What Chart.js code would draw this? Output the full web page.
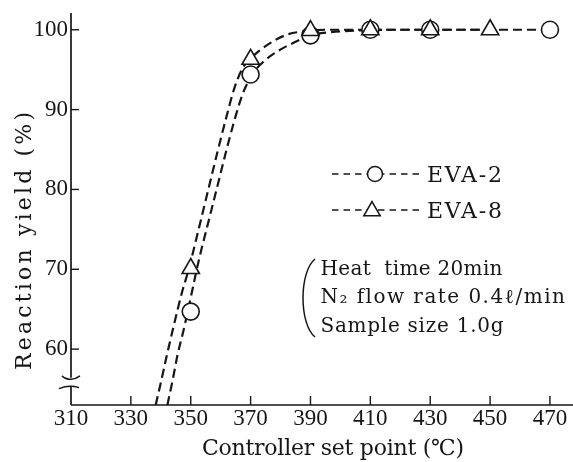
<!DOCTYPE html>
<html>
<head>
<meta charset="utf-8">
<script src="https://cdn.jsdelivr.net/npm/chart.js@4.4.0/dist/chart.umd.min.js"></script>
<style>
html,body{margin:0;padding:0;background:#fff;}
#wrap{width:573px;height:462px;}
canvas{display:block;}
</style>
</head>
<body>
<div id="wrap"><canvas id="c" width="573" height="462"></canvas></div>
<script>
// ---------- data ----------
const xTickValues = [310, 330, 350, 370, 390, 410, 430, 450, 470];
const yTickValues = [60, 70, 80, 90, 100];

const seriesNames = ['EVA-2', 'EVA-8'];

// measured points (markers)
const eva2Temp  = [350, 370, 390, 410, 430, 470];
const eva2Yield = [64.7, 94.4, 99.3, 100, 100, 100];
const eva8Temp  = [350, 370, 390, 410, 430, 450];
const eva8Yield = [70.1, 96.3, 99.9, 100, 100, 100];

// hand-drawn fitted curves
const eva2CurveTemp  = [342.2, 344, 345.6, 347.5, 349, 350.6, 352.8, 355, 358.9, 361.7, 364.4, 367.2, 370.5, 374, 379, 384.5, 390, 397, 405, 415, 470];
const eva2CurveYield = [53, 56.2, 59.3, 62.2, 64.7, 67.5, 71.3, 74.6, 80.4, 84.6, 88.4, 91.8, 94.4, 95.9, 97.3, 98.4, 99.3, 99.7, 99.9, 100, 100];
const eva8CurveTemp  = [338.3, 340, 342, 344.5, 347, 349.4, 352.5, 356, 359, 362, 364.5, 367.2, 370, 375.6, 382.2, 388, 395, 405, 450];
const eva8CurveYield = [53, 55.8, 59.2, 63.2, 67, 70.1, 74.8, 80.2, 84.8, 89.2, 92.6, 95.1, 96.4, 98.1, 99.4, 99.8, 100, 100, 100];

const xTitle = 'Controller set point (℃)';
const yTitle = 'Reaction yield (%)';
const conditionLines = ['Heat  time 20min', 'N₂ flow rate 0.4ℓ/min', 'Sample size 1.0g'];

// ---------- styling ----------
const INK = '#161616';
const TEXT_FONT = '"DejaVu Serif", "Liberation Serif", serif';
const NUM_FONT = '"Liberation Serif", "DejaVu Serif", serif';

const pts = (xs, ys) => xs.map((x, i) => ({x: x, y: ys[i]}));

const curveStyle = {
  borderColor: INK, borderWidth: 2.2, borderDash: [9, 5],
  pointRadius: 0, pointHoverRadius: 0, fill: false,
  cubicInterpolationMode: 'monotone', showLine: true
};

function fitText(ctx, text, x, y, width, font) {
  ctx.font = font;
  const hasLS = ('letterSpacing' in ctx);
  if (hasLS) ctx.letterSpacing = '0px';
  const w = ctx.measureText(text).width;
  const n = Array.from(text).length;
  if (hasLS && n > 1) ctx.letterSpacing = ((width - w) / (n - 1)) + 'px';
  ctx.textAlign = 'left';
  ctx.fillText(text, x, y);
  if (hasLS) ctx.letterSpacing = '0px';
}

function marker(ctx, style, cx, cy, r) {
  ctx.beginPath();
  if (style === 'circle') {
    ctx.arc(cx, cy, r, 0, Math.PI * 2);
  } else {
    for (let k = 0; k < 3; k++) {
      const a = k * 2 * Math.PI / 3;
      const px = cx + Math.sin(a) * r, py = cy - Math.cos(a) * r;
      if (k === 0) ctx.moveTo(px, py); else ctx.lineTo(px, py);
    }
    ctx.closePath();
  }
  ctx.fillStyle = '#fff';
  ctx.fill();
  ctx.stroke();
}

const deco = {
  id: 'deco',
  afterDraw(chart) {
    const {ctx, chartArea: a, scales: {x, y}} = chart;
    ctx.save();
    ctx.strokeStyle = INK;
    ctx.fillStyle = INK;
    ctx.lineWidth = 1.7;
    ctx.setLineDash([]);
    const seg = (x1, y1, x2, y2) => { ctx.beginPath(); ctx.moveTo(x1, y1); ctx.lineTo(x2, y2); ctx.stroke(); };

    // x axis
    seg(a.left, a.bottom, a.right, a.bottom);
    // y axis with break
    const yb1 = y.getPixelForValue(56.4), yb2 = y.getPixelForValue(55.3);
    seg(a.left, a.top, a.left, yb1);
    seg(a.left, yb2, a.left, a.bottom);
    ctx.lineWidth = 1.5;
    ctx.beginPath();
    ctx.moveTo(a.left - 9, yb1 - 2);
    ctx.bezierCurveTo(a.left - 4, yb1 + 3, a.left + 4, yb1 + 2, a.left + 9, yb1 - 2);
    ctx.stroke();
    ctx.beginPath();
    ctx.moveTo(a.left - 12, yb2 + 2);
    ctx.quadraticCurveTo(a.left - 2, yb2 - 2, a.left + 8, yb2 + 1);
    ctx.stroke();

    // inward ticks
    ctx.lineWidth = 1.4;
    x.ticks.forEach(t => {
      if (t.value === x.min) return;
      const px = x.getPixelForValue(t.value);
      seg(px, a.bottom, px, a.bottom - 9);
    });
    y.ticks.forEach(t => {
      const py = y.getPixelForValue(t.value);
      seg(a.left, py, a.left + 8, py);
    });

    // axis titles
    ctx.textBaseline = 'alphabetic';
    ctx.fillStyle = INK;
    fitText(ctx, xTitle, 202, 455, 262, '22px ' + TEXT_FONT);
    ctx.save();
    ctx.translate(31, 370);
    ctx.rotate(-Math.PI / 2);
    fitText(ctx, yTitle, 0, 0, 258, '22px ' + TEXT_FONT);
    ctx.restore();

    // legend
    const ds = chart.data.datasets;
    const legendRows = [
      {name: seriesNames[0], ds: ds[2], cy: 174, mx: 375, r: 7.5},
      {name: seriesNames[1], ds: ds[3], cy: 210, mx: 372, r: 9.5}
    ];
    legendRows.forEach(row => {
      ctx.lineWidth = 1.7;
      ctx.setLineDash([6.5, 5]);
      seg(332, row.cy, 422, row.cy);
      ctx.setLineDash([]);
      ctx.lineWidth = 1.5;
      marker(ctx, row.ds.pointStyle, row.mx, row.cy + (row.ds.pointStyle === 'triangle' ? 1 : 0), row.r);
      ctx.fillStyle = INK;
      fitText(ctx, row.name, 427, row.cy + 8, 75, '22px ' + TEXT_FONT);
    });

    // conditions block with bracket
    ctx.lineWidth = 1.5;
    ctx.beginPath();
    ctx.moveTo(315, 259);
    ctx.bezierCurveTo(299, 272, 299, 324, 315, 337);
    ctx.stroke();
    const widths = [182, 244, 183];
    conditionLines.forEach((s, i) => {
      fitText(ctx, s, 320.5, 275 + i * 28.3, widths[i], '20px ' + TEXT_FONT);
    });

    ctx.restore();
  }
};

const chart = new Chart(document.getElementById('c'), {
  type: 'scatter',
  data: {
    datasets: [
      Object.assign({label: seriesNames[0] + ' curve', data: pts(eva2CurveTemp, eva2CurveYield), order: 4}, curveStyle),
      Object.assign({label: seriesNames[1] + ' curve', data: pts(eva8CurveTemp, eva8CurveYield), order: 3}, curveStyle),
      {label: seriesNames[0], data: pts(eva2Temp, eva2Yield), showLine: false, pointStyle: 'circle',
       pointRadius: 8.5, pointBorderWidth: 1.6, pointBackgroundColor: '#fff', pointBorderColor: INK, order: 2},
      {label: seriesNames[1], data: pts(eva8Temp, eva8Yield), showLine: false, pointStyle: 'triangle',
       pointRadius: 10, pointBorderWidth: 1.6, pointBackgroundColor: '#fff', pointBorderColor: INK, order: 1}
    ]
  },
  options: {
    responsive: false,
    animation: false,
    devicePixelRatio: 1,
    layout: {autoPadding: false, padding: {top: 13, right: 0, bottom: 0, left: 0}},
    plugins: {legend: {display: false}, tooltip: {enabled: false}, title: {display: false}},
    scales: {
      x: {
        type: 'linear', min: 310, max: 477.7,
        grid: {display: false, drawTicks: false},
        border: {display: false},
        ticks: {font: {family: NUM_FONT, size: 23}, color: INK, padding: 0, maxRotation: 0, autoSkip: false},
        afterBuildTicks: s => { s.ticks = xTickValues.map(v => ({value: v})); },
        afterFit: s => { s.height = 57; s.paddingLeft = 0; s.paddingRight = 0; }
      },
      y: {
        type: 'linear', min: 53, max: 102.1,
        grid: {display: false, drawTicks: false},
        border: {display: false},
        ticks: {font: {family: NUM_FONT, size: 23}, color: INK, padding: 3, autoSkip: false},
        afterBuildTicks: s => { s.ticks = yTickValues.map(v => ({value: v})); },
        afterFit: s => { s.width = 71; s.paddingTop = 0; s.paddingBottom = 0; }
      }
    }
  },
  plugins: [deco]
});
</script>
</body>
</html>
